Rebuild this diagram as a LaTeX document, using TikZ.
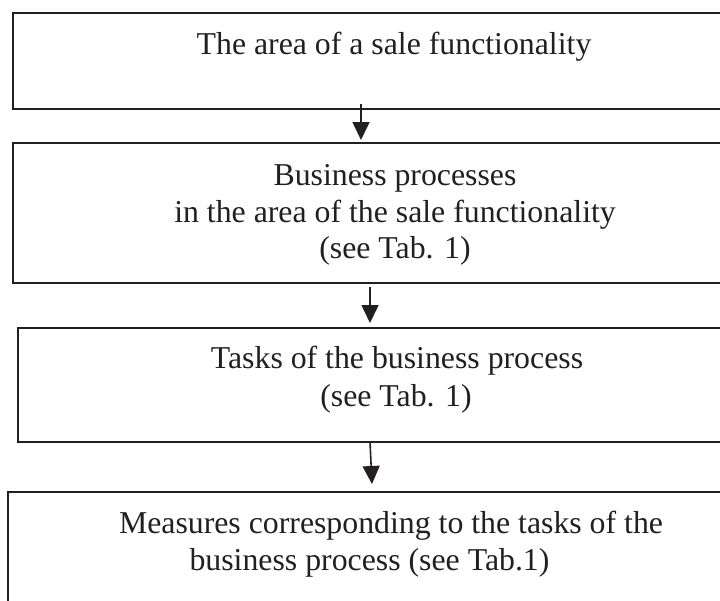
\documentclass[tikz,border=0pt]{standalone}
\usepackage{fontspec}
\setmainfont{Liberation Serif}
\usetikzlibrary{arrows.meta}
\definecolor{ink}{HTML}{231F20}
\begin{document}
\begin{tikzpicture}[x=1pt,y=-1pt,
  box/.style={draw=ink,line width=1.6pt,inner sep=0pt,outer sep=0pt,anchor=north west},
  txt/.style={text=ink,inner sep=0pt,anchor=base,font=\fontsize{31.8}{37}\selectfont},
  arr/.style={draw=ink,line width=1.6pt,-{Triangle[length=18pt,width=17pt]}}]
\useasboundingbox (0,0) rectangle (720,600);
\clip (0,0) rectangle (720,600);
% boxes
\node[box,minimum width=763pt,minimum height=96pt] (b1) at (13,13) {};
\node[box,minimum width=763pt,minimum height=140pt] (b2) at (13,143) {};
\node[box,minimum width=758pt,minimum height=114pt] (b3) at (18,328) {};
\node[box,minimum width=768pt,minimum height=160pt] (b4) at (8,492) {};
% texts
\node[txt] (t1) at (394,54) {The area of a sale functionality};
\node[txt] (t2a) at (395,185) {Business processes};
\node[txt] (t2b) at (395,222) {in the area of the sale functionality};
\node[txt] (t2c) at (395,258) {(see Tab. 1)};
\node[txt] (t3a) at (397,368) {Tasks of the business process};
\node[txt] (t3b) at (396,406) {(see Tab. 1)};
\node[txt] (t4a) at (391,533) {Measures corresponding to the tasks of the};
\node[txt] (t4b) at (369.5,570) {business process (see Tab.1)};
% arrows
\coordinate (x1) at (361,0);
\coordinate (x2) at (370,0);
\coordinate (x3a) at (370,0);
\coordinate (x3b) at (372,0);
\draw[arr] ([yshift=5pt]b1.south -| x1) -- ([yshift=3pt]b2.north -| x1);
\draw[arr] ([yshift=-4pt]b2.south -| x2) -- ([yshift=5pt]b3.north -| x2);
\draw[arr] (b3.south -| x3a) -- ([yshift=8pt]b4.north -| x3b);
\end{tikzpicture}
\end{document}
